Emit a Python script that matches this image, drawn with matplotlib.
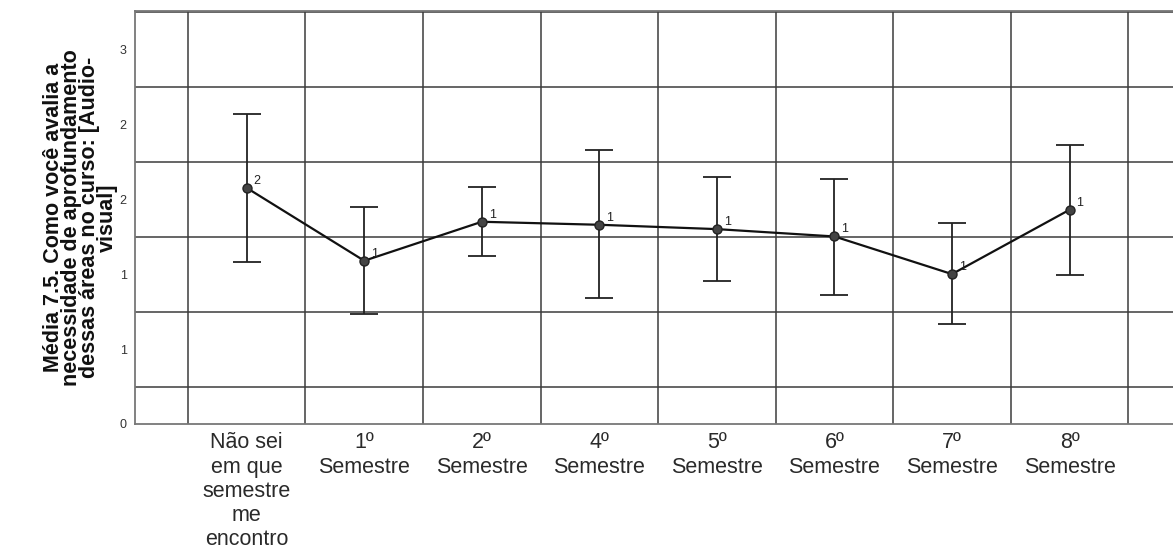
import numpy as np
import matplotlib.pyplot as plt
from matplotlib.ticker import FixedLocator

plt.rcParams['font.family'] = ['Liberation Sans', 'DejaVu Sans']

# data
categories = ['Não sei\nem que\nsemestre\nme\nencontro', '1º\nSemestre', '2º\nSemestre',
              '4º\nSemestre', '5º\nSemestre', '6º\nSemestre', '7º\nSemestre', '8º\nSemestre']
means = [1.575, 1.089, 1.349, 1.329, 1.300, 1.251, 1.000, 1.429]
upper = [2.067, 1.449, 1.578, 1.827, 1.645, 1.636, 1.338, 1.864]
lower = [1.078, 0.733, 1.120, 0.838, 0.955, 0.862, 0.665, 0.991]
ytick_vals = [0, 0.5, 1.0, 1.5, 2.0, 2.5]
ytick_labels = ['0', '1', '1', '2', '2', '3']
ylabel = 'Média 7.5. Como você avalia a\nnecessidade de aprofundamento\ndessas áreas no curso: [Audio-\nvisual]'

x = np.arange(len(categories))
means = np.array(means)
yerr = [means - np.array(lower), np.array(upper) - means]

dpi = 100
fig = plt.figure(figsize=(1173 / dpi, 548 / dpi), dpi=dpi)
ax = fig.add_axes([135 / 1173, 124 / 548, 1 - 135 / 1173 + 0.01, 413 / 548])

grid_col = '#3c3c3c'
# grid between categories and at the quarter steps
ax.xaxis.set_minor_locator(FixedLocator(np.arange(-0.5, len(categories) + 0.5, 1)))
ax.yaxis.set_minor_locator(FixedLocator(np.arange(0.25, 3.0, 0.5)))
ax.grid(which='minor', color=grid_col, lw=1.1)
ax.grid(which='major', visible=False)

ax.errorbar(x, means, yerr=yerr, fmt='none', ecolor='#222222', elinewidth=1.3,
            capsize=10, capthick=1.3, zorder=3)
ax.plot(x, means, color='#111111', lw=1.6, marker='o', ms=6.5,
        markerfacecolor='#444444', markeredgecolor='#222222', zorder=4)

for xi, m in zip(x, means):
    ax.annotate('%d' % int(m + 0.5), (xi, m), xytext=(5, 3), textcoords='offset points',
                fontsize=9, color='#222222', zorder=5)

ax.set_xlim(-0.95, 7.98)
ax.set_ylim(0, 2.755)
ax.set_xticks(x)
ax.set_xticklabels(categories, fontsize=15.5, color='#2a2a2a', linespacing=1.2)
ax.set_yticks(ytick_vals)
ax.set_yticklabels(ytick_labels, fontsize=9, color='#333333')
ax.tick_params(which='both', length=0)
ax.tick_params(axis='x', pad=6)
ax.tick_params(axis='y', pad=6)

for s in ax.spines.values():
    s.set_color('#777777')
    s.set_linewidth(1.3)
ax.spines['right'].set_visible(False)

ax.set_ylabel(ylabel, fontsize=15.5, fontweight='bold', color='#111111', labelpad=1,
              linespacing=0.82)

fig.savefig('out.png', dpi=dpi)
